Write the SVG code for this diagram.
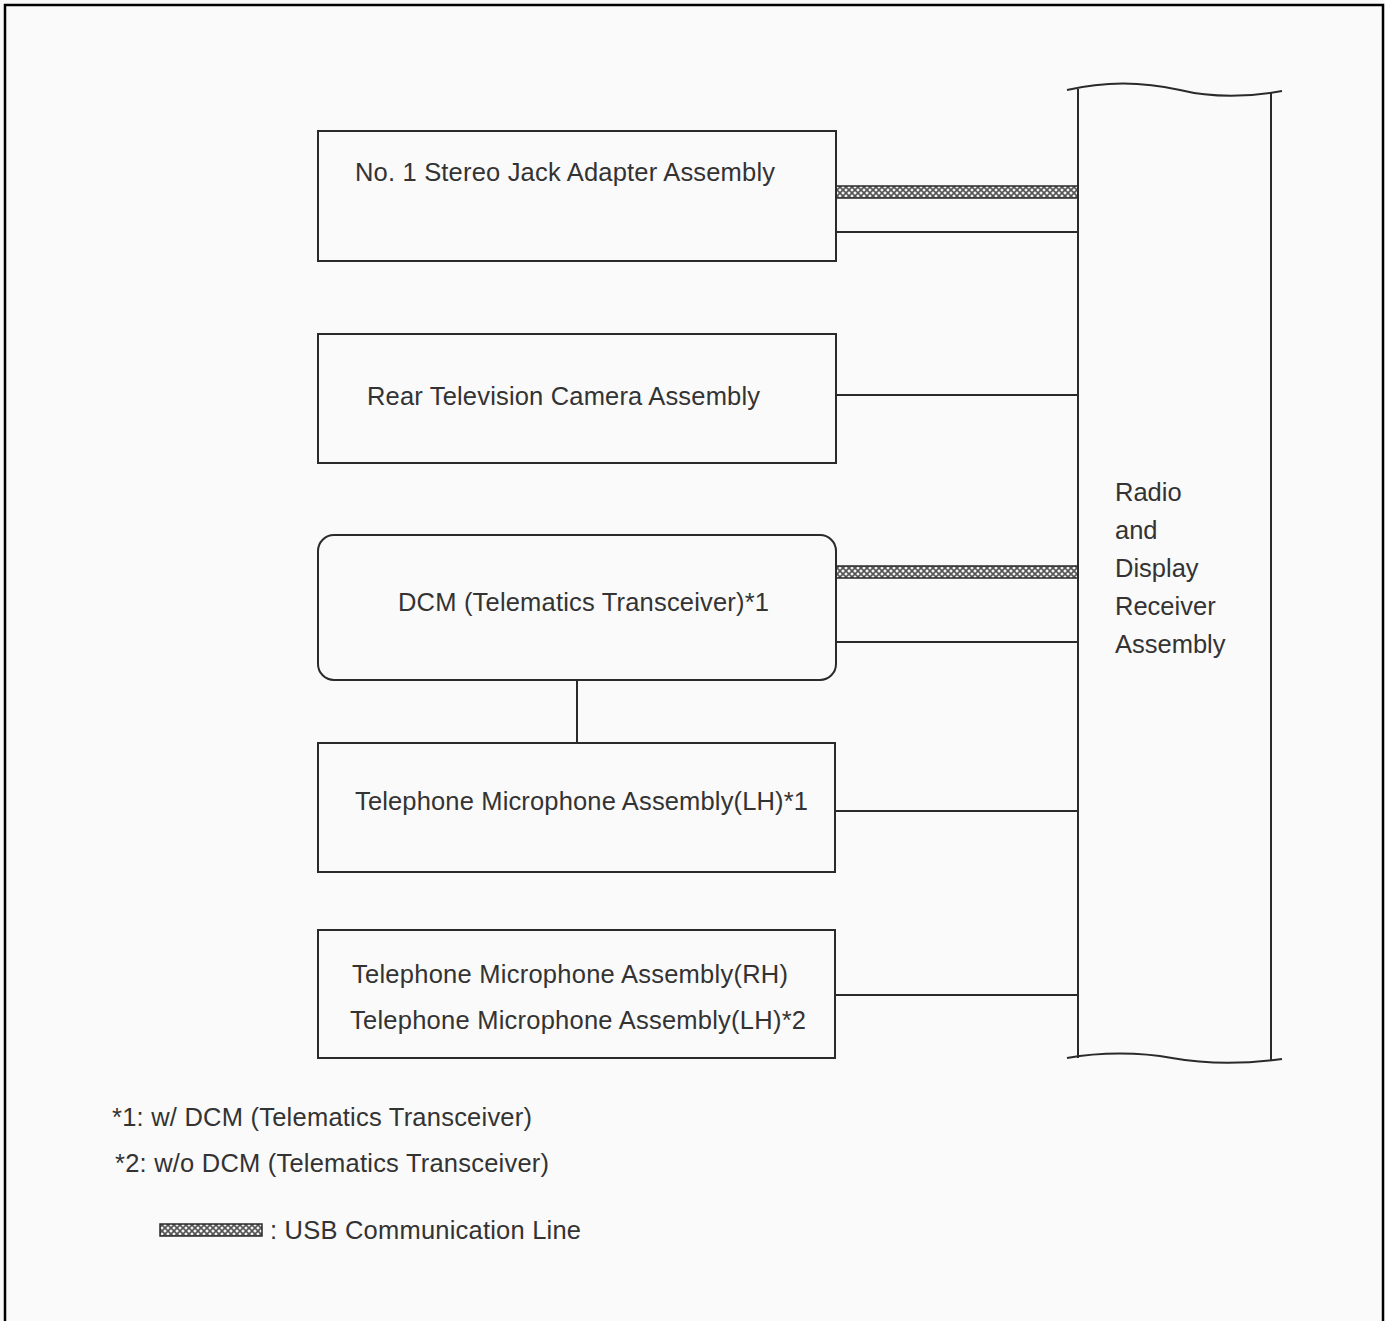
<svg xmlns="http://www.w3.org/2000/svg" width="1385" height="1321" viewBox="0 0 1385 1321">
<style>
.box{fill:none;stroke:#2a2a2a;stroke-width:2}
.ln{fill:none;stroke:#2a2a2a;stroke-width:2}
.usb{fill:url(#hatch);stroke:#2a2a2a;stroke-width:1.5}
.t{font-family:"Liberation Sans",Arial,sans-serif;font-size:25.5px;fill:#333}
</style>
<defs>
<pattern id="hatch" patternUnits="userSpaceOnUse" width="6" height="6" x="0" y="1">
<rect width="6" height="6" fill="#f4f4f4"/>
<path d="M0,0 L6,6 M6,0 L0,6" stroke="#555" stroke-width="1.6"/>
</pattern>
</defs>
<rect width="1385" height="1321" fill="#fafafa"/>
<rect x="5" y="5" width="1378" height="1340" fill="none" stroke="#000" stroke-width="2.5"/>

<g id="connectors">
<rect class="usb" x="836" y="186" width="242" height="12"/>
<line class="ln" x1="836" y1="232" x2="1078" y2="232"/>
<line class="ln" x1="836" y1="395" x2="1078" y2="395"/>
<rect class="usb" x="836" y="566" width="242" height="12"/>
<line class="ln" x1="836" y1="642" x2="1078" y2="642"/>
<line class="ln" x1="577" y1="680" x2="577" y2="743"/>
<line class="ln" x1="835" y1="811" x2="1078" y2="811"/>
<line class="ln" x1="835" y1="995" x2="1078" y2="995"/>
</g>

<g id="n1">
<rect class="box" x="318" y="131" width="518" height="130"/>
<text class="t" x="355" y="181" textLength="420">No. 1 Stereo Jack Adapter Assembly</text>
</g>
<g id="n2">
<rect class="box" x="318" y="334" width="518" height="129"/>
<text class="t" x="367" y="405" textLength="393">Rear Television Camera Assembly</text>
</g>
<g id="n3">
<rect class="box" x="318" y="535" width="518" height="145" rx="16"/>
<text class="t" x="398" y="611" textLength="371">DCM (Telematics Transceiver)*1</text>
</g>
<g id="n4">
<rect class="box" x="318" y="743" width="517" height="129"/>
<text class="t" x="355" y="810" textLength="453">Telephone Microphone Assembly(LH)*1</text>
</g>
<g id="n5">
<rect class="box" x="318" y="930" width="517" height="128"/>
<text class="t" x="352" y="983" textLength="436">Telephone Microphone Assembly(RH)</text>
<text class="t" x="350" y="1029" textLength="456">Telephone Microphone Assembly(LH)*2</text>
</g>
<g id="receiver">
<line class="ln" x1="1078" y1="89" x2="1078" y2="1058"/>
<line class="ln" x1="1271" y1="93" x2="1271" y2="1061"/>
<path class="ln" d="M1067,90 C1105,81 1145,82 1180,90 C1212,98 1250,97 1282,91"/>
<path class="ln" d="M1067,1058 C1100,1052 1140,1052 1172,1058 C1205,1064 1245,1064 1282,1059"/>
<text class="t" x="1115" y="501">Radio</text>
<text class="t" x="1115" y="539">and</text>
<text class="t" x="1115" y="577">Display</text>
<text class="t" x="1115" y="615">Receiver</text>
<text class="t" x="1115" y="653">Assembly</text>
</g>

<g id="notes">
<text class="t" x="112" y="1126" textLength="420">*1: w/ DCM (Telematics Transceiver)</text>
<text class="t" x="115" y="1172" textLength="434">*2: w/o DCM (Telematics Transceiver)</text>
<rect class="usb" x="160" y="1224" width="102" height="12"/>
<text class="t" x="270" y="1239" textLength="311">: USB Communication Line</text>
</g>
</svg>
